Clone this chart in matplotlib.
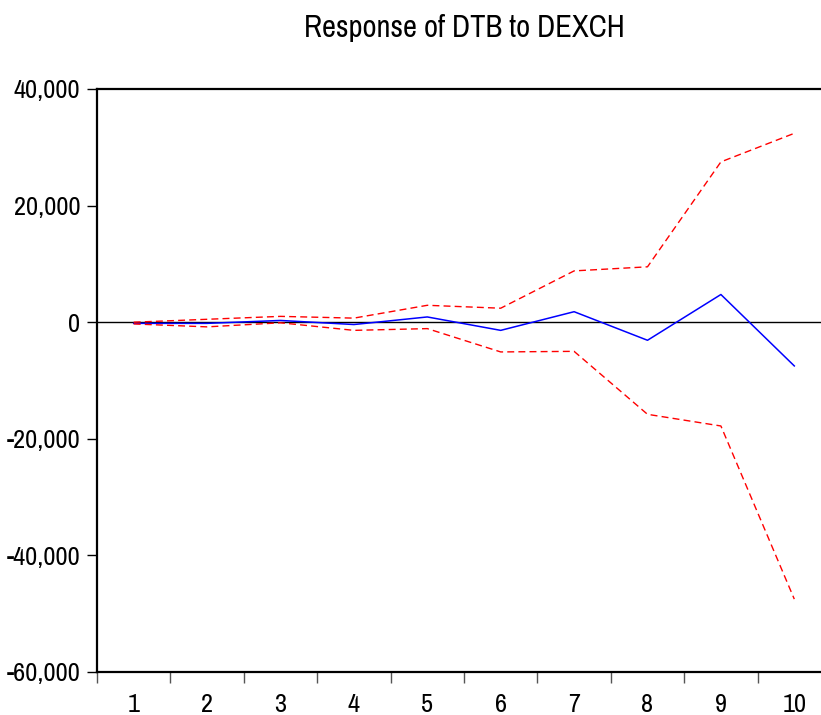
import numpy as np
import matplotlib
matplotlib.use('Agg')
import matplotlib.pyplot as plt
from matplotlib.ticker import FuncFormatter

plt.rcParams['font.family'] = ['Archivo Narrow', 'Liberation Sans', 'DejaVu Sans']

periods = [1, 2, 3, 4, 5, 6, 7, 8, 9, 10]
response = [-200, -200, 300, -400, 900, -1400, 1800, -3100, 4750, -7500]
upper = [0, 500, 1000, 700, 2900, 2400, 8800, 9500, 27500, 32400]
lower = [-300, -800, -100, -1400, -1100, -5100, -5000, -15800, -17800, -47500]

fig = plt.figure(figsize=(8.21, 7.15), dpi=100)
ax = fig.add_axes([97 / 821, 43 / 715, 734 / 821, 583 / 715])

ax.axhline(0, color='black', lw=1.0)
ax.plot(periods, response, color='blue', lw=1.1)
ax.plot(periods, upper, color='red', lw=1.0, ls=(0, (5, 3)))
ax.plot(periods, lower, color='red', lw=1.0, ls=(0, (5, 3)))

ax.set_xlim(0.5, 10.5)
ax.set_ylim(-60000, 40000)
ax.set_yticks([-60000, -40000, -20000, 0, 20000, 40000])
ax.yaxis.set_major_formatter(FuncFormatter(lambda v, p: f'{int(v):,}'))

# ticks sit between periods, labels in the middle
ax.set_xticks(np.arange(0.5, 11, 1))
ax.set_xticklabels([])
ax.set_xticks(periods, minor=True)
ax.set_xticklabels([str(p) for p in periods], minor=True)
ax.tick_params(axis='x', which='major', direction='out', length=8, width=1, color='#555555')
ax.tick_params(axis='x', which='minor', length=0, pad=15, labelsize=19)
ax.tick_params(axis='y', direction='out', length=7, width=1, labelsize=19, pad=5)

ax.spines['right'].set_visible(False)
for s in ['left', 'bottom', 'top']:
    ax.spines[s].set_linewidth(1.6)

fig.text(464 / 821, 1 - 28 / 715, 'Response of DTB to DEXCH', ha='center', va='center', fontsize=22)

fig.savefig('out.png', dpi=100)
